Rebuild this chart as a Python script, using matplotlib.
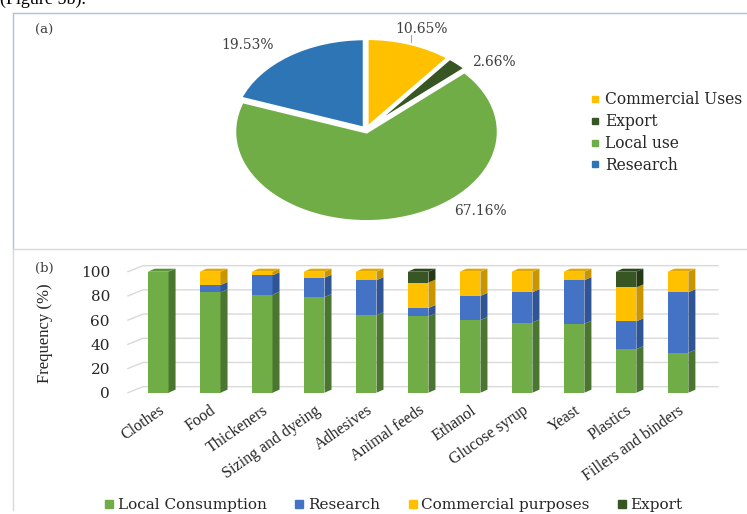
import matplotlib
matplotlib.use('Agg')
import matplotlib.pyplot as plt
from matplotlib.lines import Line2D
from matplotlib.patches import Polygon
import numpy as np

W, H = 747, 514

# (a) share of each use
pie_labels = ['Commercial Uses', 'Export', 'Local use', 'Research']
pie_values = [10.65, 2.66, 67.16, 19.53]
pie_colors = ['#FFC000', '#375623', '#70AD47', '#2E75B6']

# (b) frequency of each use per product
categories = ['Clothes', 'Food', 'Thickeners', 'Sizing and dyeing', 'Adhesives',
              'Animal feeds', 'Ethanol', 'Glucose syrup', 'Yeast', 'Plastics',
              'Fillers and binders']
local_consumption = [100, 83, 81, 79, 64, 63, 60, 58, 57, 36, 33]
research = [0, 6, 16, 16, 29, 7, 20, 25, 36, 23, 50]
commercial = [0, 11, 3, 5, 7, 21, 20, 17, 7, 28, 17]
export = [0, 0, 0, 0, 0, 9, 0, 0, 0, 13, 0]
bar_labels = ['Local Consumption', 'Research', 'Commercial purposes', 'Export']

# front, side, top colours for the 3d look
bar_colors = [
    ('#70AD47', '#4B7630', '#5E9439'),
    ('#4472C4', '#2F5597', '#3A63AD'),
    ('#FFC000', '#C99600', '#E0A800'),
    ('#375623', '#243A17', '#2D481D'),
]

SERIF_WIDE = 'DejaVu Serif'
SERIF = 'Liberation Serif'


def fx(px):
    return px / W


def fy(py):
    return 1 - py / H


fig = plt.figure(figsize=(W / 100, H / 100), dpi=100)

# caption line cut off at the top
fig.text(0.0, fy(4), '(Figure 5b).', fontsize=13, family=SERIF, va='baseline')

# panel frames
fig.add_artist(Line2D([fx(12.7), fx(12.7)], [fy(12.7), fy(249)], color='#A9C6D8', lw=1))
fig.add_artist(Line2D([fx(12.7), 1], [fy(12.7), fy(12.7)], color='#A9C6D8', lw=1))
fig.add_artist(Line2D([fx(12.7), 1], [fy(249), fy(249)], color='#D9D9D9', lw=1))
fig.add_artist(Line2D([fx(12.7), fx(12.7)], [fy(249), fy(510)], color='#D9D9D9', lw=1))

fig.text(fx(35), fy(30), '(a)', fontsize=9.5, family=SERIF_WIDE, color='#404040', va='center')
fig.text(fx(35), fy(268), '(b)', fontsize=9.5, family=SERIF_WIDE, color='#404040', va='center')

# ---- (a) pie ----
cx, cy, sx, sy = 366, 130, 132, 90
ax_pie = fig.add_axes([fx(cx - 1.1 * sx), fy(cy + 1.1 * sy), 2.2 * sx / W, 2.2 * sy / H])
wedges, _ = ax_pie.pie(pie_values, colors=pie_colors, startangle=90, counterclock=False,
                       explode=[0.02] * 4,
                       wedgeprops=dict(edgecolor='white', linewidth=2.5))
ax_pie.set_aspect('auto')
ax_pie.set_xlim(-1.1, 1.1)
ax_pie.set_ylim(-1.1, 1.1)
ax_pie.axis('off')

label_pos = [(0.42, 1.12), (0.97, 0.75), (0.87, -0.9), (-0.9, 0.94)]
for v, (lx, ly) in zip(pie_values, label_pos):
    ax_pie.text(lx, ly, f'{v:.2f}%', ha='center', va='center', fontsize=10,
                family=SERIF_WIDE, color='#404040')
ax_pie.plot([0.34, 0.34], [1.05, 0.98], color='#A6A6A6', lw=0.8, clip_on=False)

pie_handles = [Line2D([], [], marker='s', ls='none', markersize=5, color=c) for c in pie_colors]
fig.legend(pie_handles, pie_labels, loc='upper left', bbox_to_anchor=(fx(591), fy(91)),
           frameon=False, prop={'family': SERIF_WIDE, 'size': 11.2}, handlelength=0.5,
           handletextpad=0.4, labelspacing=0.32, borderaxespad=0, borderpad=0,
           labelcolor='#262626')

# ---- (b) 3d-looking stacked bars ----
ax = fig.add_axes([fx(128), fy(392.7), 590 / W, 121 / H])
xmin, xmax = -0.58, 10.77
ax.set_xlim(xmin, xmax)
ax.set_ylim(0, 100)
for s in ax.spines.values():
    s.set_visible(False)

dxg, dyg = 0.29, 5.0     # wall depth for gridlines
dxb, dyb = 0.135, 2.5    # bar depth
bw = 0.4

for v in range(0, 101, 20):
    ax.plot([xmin, xmin + dxg, xmax], [v, v + dyg, v + dyg], color='#D9D9D9', lw=1,
            clip_on=False, zorder=0)

x = np.arange(len(categories))
bottom = np.zeros(len(categories))
top_color = [None] * len(categories)
for vals, (front, side, top) in zip([local_consumption, research, commercial, export], bar_colors):
    vals = np.array(vals, dtype=float)
    ax.bar(x, vals, width=bw, bottom=bottom, color=front, zorder=2, clip_on=False)
    for i in range(len(x)):
        if vals[i] <= 0:
            continue
        y0, y1 = bottom[i], bottom[i] + vals[i]
        xr = x[i] + bw / 2
        ax.add_patch(Polygon([(xr, y0), (xr + dxb, y0 + dyb), (xr + dxb, y1 + dyb), (xr, y1)],
                             closed=True, facecolor=side, edgecolor='none', zorder=2,
                             clip_on=False))
        top_color[i] = top
    bottom = bottom + vals

for i in range(len(x)):
    t = bottom[i]
    xl, xr = x[i] - bw / 2, x[i] + bw / 2
    ax.add_patch(Polygon([(xl, t), (xr, t), (xr + dxb, t + dyb), (xl + dxb, t + dyb)],
                         closed=True, facecolor=top_color[i], edgecolor='none', zorder=3,
                         clip_on=False))

ax.set_yticks(range(0, 101, 20))
ax.tick_params(axis='y', length=0, pad=13, labelsize=11, labelcolor='#262626')
for t in ax.get_yticklabels():
    t.set_family(SERIF_WIDE)
ax.set_xticks(x)
ax.set_xticklabels(categories, rotation=35, ha='right', rotation_mode='anchor',
                   family=SERIF, fontsize=11.5, color='#262626')
ax.tick_params(axis='x', length=0, pad=7)

fig.text(fx(45), fy(333), 'Frequency (%)', rotation=90, ha='center', va='center',
         family=SERIF, fontsize=12, color='#262626')

bar_handles = [Line2D([], [], marker='s', ls='none', markersize=6, color=c[0]) for c in bar_colors]
fig.legend(bar_handles, bar_labels, ncol=4, loc='center', bbox_to_anchor=(fx(394), fy(505)),
           frameon=False, prop={'family': SERIF_WIDE, 'size': 11}, handlelength=0.5,
           handletextpad=0.3, columnspacing=1.9, borderaxespad=0, borderpad=0,
           labelcolor='#262626')

fig.savefig('out.png', dpi=100)
